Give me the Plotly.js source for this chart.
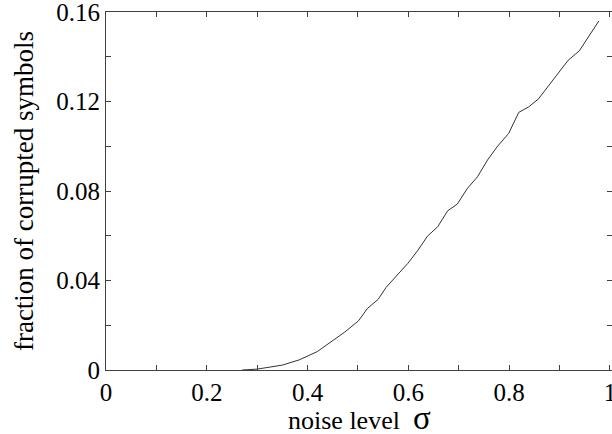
<!DOCTYPE html>
<html>
<head>
<meta charset="utf-8">
<script src="https://cdn.plot.ly/plotly-3.0.1.min.js"></script>
<style>html,body{margin:0;padding:0;background:#fff;}#chart{width:612px;height:434px;}</style>
</head>
<body>
<div id="chart"></div>
<script>
// noise level sigma
const sigma = [0.27, 0.30, 0.35, 0.383, 0.419, 0.442, 0.474, 0.501, 0.519, 0.540, 0.556, 0.576, 0.599, 0.619, 0.638, 0.658, 0.678, 0.697, 0.717, 0.737, 0.757, 0.776, 0.799, 0.819, 0.839, 0.858, 0.878, 0.898, 0.917, 0.939, 0.957, 0.978];
// fraction of corrupted symbols
const fraction = [0, 0.0004, 0.0022, 0.0045, 0.0082, 0.012, 0.017, 0.022, 0.0276, 0.0316, 0.037, 0.042, 0.0477, 0.0536, 0.0599, 0.064, 0.0712, 0.0742, 0.0812, 0.0864, 0.0939, 0.0998, 0.1058, 0.1152, 0.1177, 0.1212, 0.127, 0.1333, 0.1385, 0.1427, 0.149, 0.1561];

const xTickVals = [0, 0.1, 0.2, 0.3, 0.4, 0.5, 0.6, 0.7, 0.8, 0.9, 1];
const xTickText = ["0", "", "0.2", "", "0.4", "", "0.6", "", "0.8", "", "1"];
const yTickVals = [0, 0.02, 0.04, 0.06, 0.08, 0.10, 0.12, 0.14, 0.16];
const yTickText = ["0", "", "0.04", "", "0.08", "", "0.12", "", "0.16"];
const xTitle = 'noise level  <span style="font-size:33px">σ</span>';
const yTitle = 'fraction of corrupted symbols';

const serif = "Liberation Serif, Times New Roman, Times, serif";

const trace = {
  x: sigma, y: fraction, type: 'scatter', mode: 'lines',
  line: {color: '#333333', width: 1},
  hoverinfo: 'skip'
};

const axisCommon = {
  showgrid: false, zeroline: false,
  showline: true, linecolor: '#404040', linewidth: 1,
  mirror: 'ticks', ticks: 'inside', ticklen: 5, tickwidth: 1, tickcolor: '#404040',
  tickfont: {family: serif, size: 25, color: '#000'},
  ticklabeloverflow: 'allow',
  tickmode: 'array'
};

const layout = {
  width: 612, height: 434,
  font: {family: serif, color: '#000'},
  margin: {l: 106, r: 0, t: 12, b: 64, pad: 0},
  paper_bgcolor: '#fff', plot_bgcolor: '#fff',
  showlegend: false,
  xaxis: Object.assign({}, axisCommon, {
    range: [0, 1.004], tickvals: xTickVals, ticktext: xTickText
  }),
  yaxis: Object.assign({}, axisCommon, {
    range: [0, 0.1601], tickvals: yTickVals, ticktext: yTickText,
    title: {text: yTitle, font: {family: serif, size: 27, color: '#000'}, standoff: 14}
  }),
  annotations: [{
    text: xTitle, xref: 'paper', yref: 'paper', x: 0.5, y: 0,
    xanchor: 'center', yanchor: 'middle', yshift: -48, showarrow: false,
    font: {family: serif, size: 26, color: '#000'}
  }]
};

Plotly.newPlot('chart', [trace], layout, {staticPlot: true, displayModeBar: false});
</script>
</body>
</html>
